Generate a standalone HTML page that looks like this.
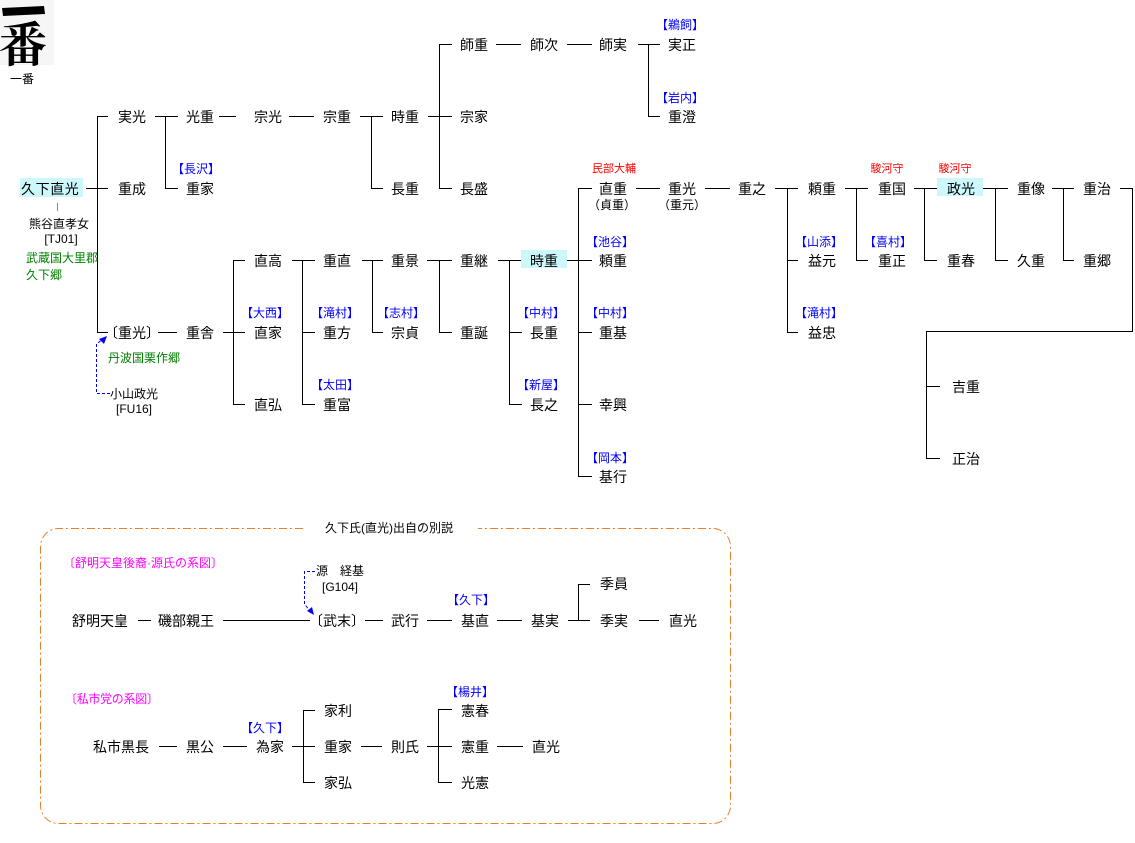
<!DOCTYPE html>
<html><head><meta charset="utf-8"><style>
html,body{margin:0;padding:0;background:#fff;}
svg{display:block;}
text{font-family:"Liberation Sans","Noto Sans CJK JP",sans-serif;dominant-baseline:central;}
.n{font-size:14px;fill:#000;}
.b{font-size:12px;fill:#0000ff;text-anchor:middle;}
.r{font-size:11px;fill:#ff0000;text-anchor:middle;}
.k{font-size:12px;fill:#000;text-anchor:middle;}
.g{font-size:12px;fill:#008000;}
.m{font-size:12px;fill:#ff00ff;}
</style></head><body>
<svg width="1135" height="843" viewBox="0 0 1135 843" xmlns="http://www.w3.org/2000/svg">
<!-- logo -->
<rect x="0" y="0" width="54" height="65" fill="#f6f6f6"/>
<path d="M2,8 L44,6 L45,14 L3,16 Z" fill="#000"/>
<text x="-1" y="41" style="font-size:48px;font-weight:bold;fill:#000;font-family:'Noto Serif CJK SC','Noto Sans CJK JP',serif;">番</text>
<text x="10" y="79" style="font-size:12px;fill:#000;">一番</text>

<!-- highlights -->
<rect x="20" y="178" width="63" height="19" fill="#ccf8fb"/>
<rect x="521" y="250" width="46" height="18" fill="#ccf8fb"/>
<rect x="937" y="178" width="46" height="18" fill="#ccf8fb"/>

<!-- connectors -->
<g stroke="#000" stroke-width="1" fill="none" shape-rendering="crispEdges">
<path d="M86,188.5H108 M97.5,116V332.5 M97,116.5H108 M97,332.5H108"/>
<path d="M155,116.5H178 M165.5,116V188.5 M165,188.5H178"/>
<path d="M219,116.5H236 M289,116.5H314"/>
<path d="M360,116.5H383 M371.5,116V188.5 M371,188.5H383"/>
<path d="M428,116.5H452 M439.5,44V188.5 M439,44.5H452 M439,188.5H452"/>
<path d="M496,44.5H521 M567,44.5H592"/>
<path d="M638,44.5H660 M648.5,44V116.5 M648,116.5H660"/>
<path d="M158,332.5H177"/>
<path d="M223,332.5H245 M233.5,260V404.5 M233,260.5H245 M233,404.5H245"/>
<path d="M292,260.5H315 M302.5,260V404.5 M302,332.5H315 M302,404.5H315"/>
<path d="M362,260.5H383 M372.5,260V332.5 M372,332.5H383"/>
<path d="M427,260.5H452 M439.5,260V332.5 M439,332.5H452"/>
<path d="M498,260.5H521 M509.5,260V404.5 M509,332.5H522 M509,404.5H522"/>
<path d="M567,260.5H592 M578.5,188V476.5 M578,188.5H592 M578,332.5H592 M578,404.5H592 M578,476.5H592"/>
<path d="M636,188.5H660 M705,188.5H730"/>
<path d="M775,188.5H798 M787.5,188V332.5 M787,260.5H798 M787,332.5H798"/>
<path d="M845,188.5H868 M856.5,188V260.5 M856,260.5H868"/>
<path d="M914,188.5H937 M924.5,188V260.5 M924,260.5H937"/>
<path d="M983,188.5H1008 M995.5,188V260.5 M995,260.5H1008"/>
<path d="M1052,188.5H1074 M1063.5,188V260.5 M1063,260.5H1074"/>
<path d="M1120,188.5H1132.5V331.5H926.5V458.5 M926,386.5H940 M926,458.5H940"/>
<!-- bottom A -->
<path d="M138,620.5H151 M223,620.5H310 M365,620.5H383 M427,620.5H452 M497,620.5H522"/>
<path d="M568,620.5H590 M578.5,584V620.5 M578,584.5H590 M639,620.5H659"/>
<!-- bottom B -->
<path d="M159,746.5H177 M223,746.5H247"/>
<path d="M292,746.5H315 M303.5,710V782.5 M303,710.5H315 M303,782.5H315"/>
<path d="M361,746.5H382"/>
<path d="M427,746.5H452 M438.5,709V782.5 M438,709.5H452 M438,782.5H452 M497,746.5H523"/>
</g>
<line x1="57.5" y1="203" x2="57.5" y2="211" stroke="#888" stroke-width="1"/>

<!-- dashed arrows -->
<g stroke="#0000ff" stroke-width="1" fill="none" stroke-dasharray="3,2">
<path d="M110,393.5H96.5V344L103,339"/>
<path d="M315,571.5H304.5V604L310,611"/>
</g>
<path d="M107,336 L99,339 L104,344 Z" fill="#0000ff"/>
<path d="M314,615 L307,611 L312,607 Z" fill="#0000ff"/>

<!-- box -->
<path d="M303,528.5H58A18,18 0 0 0 40.5,546V805A18,18 0 0 0 58,823.5H712A18,18 0 0 0 730.5,805V546A18,18 0 0 0 712,528.5H478" fill="none" stroke="#e8802a" stroke-width="1" stroke-dasharray="8,3,2,3"/>

<!-- names -->
<g class="n">
<text x="21" y="189" style="letter-spacing:0.6px">久下直光</text>
<text x="118" y="117">実光</text><text x="118" y="189">重成</text><text x="104" y="333">〔重光〕</text>
<text x="186" y="117">光重</text><text x="186" y="189">重家</text><text x="186" y="333">重舎</text>
<text x="254" y="117">宗光</text><text x="254" y="261">直高</text><text x="254" y="333">直家</text><text x="254" y="405">直弘</text>
<text x="323" y="117">宗重</text><text x="323" y="261">重直</text><text x="323" y="333">重方</text><text x="323" y="405">重富</text>
<text x="391" y="117">時重</text><text x="391" y="189">長重</text><text x="391" y="261">重景</text><text x="391" y="333">宗貞</text>
<text x="460" y="45">師重</text><text x="460" y="117">宗家</text><text x="460" y="189">長盛</text><text x="460" y="261">重継</text><text x="460" y="333">重誕</text>
<text x="530" y="45">師次</text><text x="530" y="261">時重</text><text x="530" y="333">長重</text><text x="530" y="405">長之</text>
<text x="599" y="45">師実</text><text x="599" y="189">直重</text><text x="599" y="261">頼重</text><text x="599" y="333">重基</text><text x="599" y="405">幸興</text><text x="599" y="477">基行</text>
<text x="668" y="45">実正</text><text x="668" y="117">重澄</text><text x="668" y="189">重光</text>
<text x="738" y="189">重之</text>
<text x="808" y="189">頼重</text><text x="808" y="261">益元</text><text x="808" y="333">益忠</text>
<text x="878" y="189">重国</text><text x="878" y="261">重正</text>
<text x="947" y="189">政光</text><text x="947" y="261">重春</text>
<text x="1017" y="189">重像</text><text x="1017" y="261">久重</text>
<text x="1083" y="189">重治</text><text x="1083" y="261">重郷</text>
<text x="952" y="387">吉重</text><text x="952" y="459">正治</text>
<!-- bottom -->
<text x="72" y="621">舒明天皇</text><text x="158" y="621">磯部親王</text><text x="309" y="621">〔武末〕</text>
<text x="391" y="621">武行</text><text x="461" y="621">基直</text><text x="531" y="621">基実</text>
<text x="600" y="584">季員</text><text x="600" y="621">季実</text><text x="669" y="621">直光</text>
<text x="93" y="747">私市黒長</text><text x="186" y="747">黒公</text><text x="256" y="747">為家</text>
<text x="324" y="711">家利</text><text x="324" y="747">重家</text><text x="324" y="783">家弘</text>
<text x="391" y="747">則氏</text>
<text x="461" y="711">憲春</text><text x="461" y="747">憲重</text><text x="461" y="783">光憲</text>
<text x="532" y="747">直光</text>
</g>

<!-- blue labels -->
<g class="b">
<text x="196" y="169">【長沢】</text>
<text x="265" y="313">【大西】</text>
<text x="335" y="313">【滝村】</text>
<text x="335" y="385">【太田】</text>
<text x="401" y="313">【志村】</text>
<text x="541" y="313">【中村】</text>
<text x="541" y="385">【新屋】</text>
<text x="610" y="242">【池谷】</text>
<text x="610" y="313">【中村】</text>
<text x="610" y="458">【岡本】</text>
<text x="680" y="25">【鵜飼】</text>
<text x="680" y="98">【岩内】</text>
<text x="819" y="242">【山添】</text>
<text x="819" y="313">【滝村】</text>
<text x="888" y="242">【喜村】</text>
<text x="471" y="600">【久下】</text>
<text x="265" y="728">【久下】</text>
<text x="470" y="692">【楊井】</text>
</g>
<g class="r">
<text x="614" y="169">民部大輔</text>
<text x="887" y="169">駿河守</text>
<text x="955" y="169">駿河守</text>
</g>
<g class="k">
<text x="612" y="205">（貞重）</text>
<text x="682" y="205">（重元）</text>
<text x="59" y="224">熊谷直孝女</text>
<text x="61" y="239">[TJ01]</text>
<text x="134" y="394">小山政光</text>
<text x="134" y="409">[FU16]</text>
<text x="340" y="571">源　経基</text>
<text x="340" y="587">[G104]</text>
<text x="389" y="528">久下氏(直光)出自の別説</text>
</g>
<g class="g">
<text x="26" y="258">武蔵国大里郡</text>
<text x="26" y="275">久下郷</text>
<text x="108" y="358">丹波国栗作郷</text>
</g>
<g class="m">
<text x="63" y="563">〔舒明天皇後裔·源氏の系図〕</text>
<text x="65" y="699" style="letter-spacing:-0.3px">〔私市党の系図〕</text>
</g>
</svg>
</body></html>
